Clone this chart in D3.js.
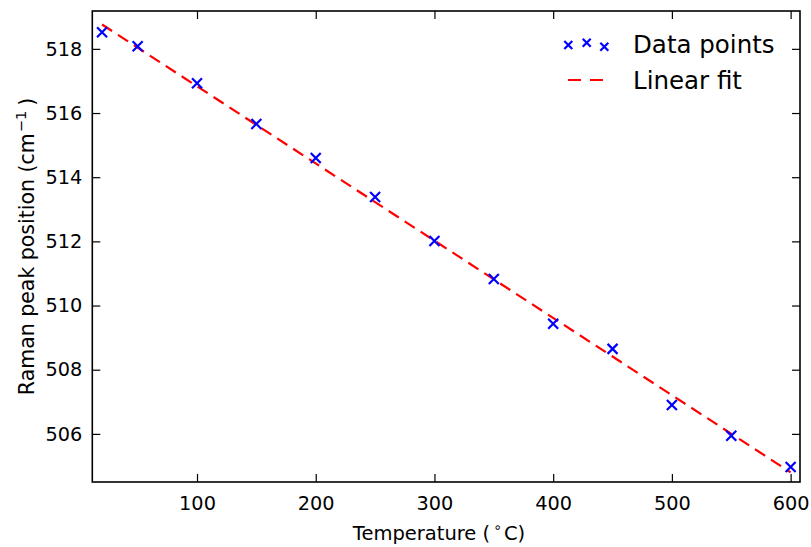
<!DOCTYPE html>
<html><head><meta charset="utf-8">
<script src="https://cdn.jsdelivr.net/npm/d3@7"></script>
<style>body{margin:0;background:#fff}svg{display:block}text{font-family:"DejaVu Sans",sans-serif;fill:#000}</style>
</head><body><svg id="c" width="811" height="547"></svg>
<script>
const temps = [20, 50, 100, 150, 200, 250, 300, 350, 400, 450, 500, 550, 600];
const peaks = [518.52, 518.08, 516.93, 515.66, 514.6, 513.38, 512.01, 510.83, 509.43, 508.65, 506.9, 505.94, 504.97];
const fitX = [20, 600];
const fitY = [518.76, 504.80];
const xTicks = [100, 200, 300, 400, 500, 600];
const yTicks = [506, 508, 510, 512, 514, 516, 518];
const legendLabels = ["Data points", "Linear fit"];

const svg = d3.select("#c");
const L = 92.3, R = 800, T = 11, B = 482;
const x = d3.scaleLinear().domain([11.8, 607.9]).range([L, R]);
const y = d3.scaleLinear().domain([504.5, 519.18]).range([B, T]);

// ticks (inward, all sides)
const tl = 8;
const gx = svg.append("g").attr("transform", `translate(0,${B})`)
  .call(d3.axisBottom(x).tickValues(xTicks).tickSizeInner(-tl).tickSizeOuter(0).tickPadding(14));
const gxt = svg.append("g").attr("transform", `translate(0,${T})`)
  .call(d3.axisTop(x).tickValues(xTicks).tickSizeInner(-tl).tickSizeOuter(0).tickFormat(""));
const gy = svg.append("g").attr("transform", `translate(${L},0)`)
  .call(d3.axisLeft(y).tickValues(yTicks).tickSizeInner(-tl).tickSizeOuter(0).tickPadding(10));
const gyr = svg.append("g").attr("transform", `translate(${R},0)`)
  .call(d3.axisRight(y).tickValues(yTicks).tickSizeInner(-tl).tickSizeOuter(0).tickFormat(""));
[gx, gxt, gy, gyr].forEach(g => {
  g.select(".domain").remove();
  g.selectAll(".tick line").attr("stroke", "#000").attr("stroke-width", 1.2);
  g.selectAll(".tick text").attr("font-size", 19.3).attr("font-family", "DejaVu Sans").attr("fill", "#000");
});

// fit line
const line = d3.line().x((d, i) => x(fitX[i])).y(d => y(d));
svg.append("path").datum(fitY).attr("d", line)
  .attr("fill", "none").attr("stroke", "#ff0000").attr("stroke-width", 2.2)
  .attr("stroke-dasharray", "12,7");

// x markers
function xMark(g, cx, cy, s) {
  g.append("path").attr("d", `M${cx - s},${cy - s}L${cx + s},${cy + s}M${cx - s},${cy + s}L${cx + s},${cy - s}`)
    .attr("stroke", "#0000ff").attr("stroke-width", 2.2).attr("fill", "none");
}
const pts = svg.append("g");
temps.forEach((t, i) => xMark(pts, x(t), y(peaks[i]), 5));

// frame
svg.append("rect").attr("x", L).attr("y", T).attr("width", R - L).attr("height", B - T)
  .attr("fill", "none").attr("stroke", "#000").attr("stroke-width", 1.6);

// legend
const lg = svg.append("g");
[[568.3, 45], [586.7, 42.7], [604.3, 46.7]].forEach(p => xMark(lg, p[0], p[1], 4));
lg.append("text").attr("x", 633).attr("y", 53).attr("font-size", 24.5).text(legendLabels[0]);
lg.append("path").attr("d", "M568,80L604,80").attr("stroke", "#ff0000").attr("stroke-width", 2.2)
  .attr("stroke-dasharray", "13,9");
lg.append("text").attr("x", 633).attr("y", 89).attr("font-size", 24.5).text(legendLabels[1]);

// axis labels
const xl = svg.append("text").attr("x", 439).attr("y", 540).attr("text-anchor", "middle").attr("font-size", 19.5);
xl.append("tspan").text("Temperature (");
xl.append("tspan").attr("font-size", 14).attr("dx", 3).attr("dy", -8).text("∘");
xl.append("tspan").attr("dx", 2).attr("dy", 8).text("C)");

const yl = svg.append("text").attr("transform", `translate(34,${(T + B) / 2}) rotate(-90)`)
  .attr("text-anchor", "middle").attr("font-size", 20.5);
yl.append("tspan").text("Raman peak position (cm");
yl.append("tspan").attr("font-size", 14.5).attr("dx", 1).attr("dy", -8).text("−1");
yl.append("tspan").attr("dx", 5).attr("dy", 8).text(")");
</script></body></html>
